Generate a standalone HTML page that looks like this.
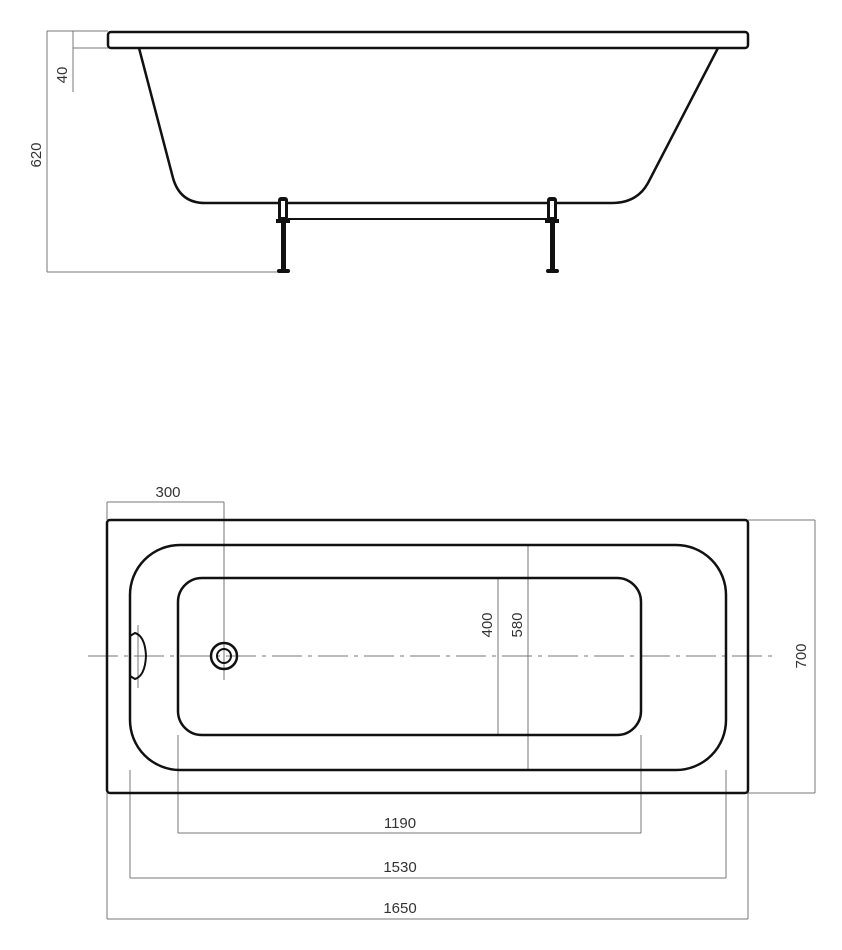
<!DOCTYPE html>
<html><head><meta charset="utf-8"><style>html,body{margin:0;padding:0;background:#fff}svg{display:block}</style></head>
<body>
<svg width="842" height="950" viewBox="0 0 842 950" xmlns="http://www.w3.org/2000/svg" font-family="Liberation Sans, sans-serif" font-size="15" fill="#333">
<g stroke="#777" stroke-width="1" fill="none">
<!-- top view dims -->
<line x1="47" y1="31" x2="47" y2="272"/><line x1="47" y1="31" x2="108" y2="31"/><line x1="47" y1="272" x2="283" y2="272"/>
<line x1="73" y1="31" x2="73" y2="92"/><line x1="73" y1="48" x2="108" y2="48"/>
<!-- bottom view dims -->
<line x1="107" y1="502" x2="224" y2="502"/><line x1="107" y1="502" x2="107" y2="520"/><line x1="224" y1="502" x2="224" y2="680"/>
<line x1="498" y1="578" x2="498" y2="735"/><line x1="528" y1="545" x2="528" y2="770"/>
<line x1="748" y1="520" x2="815" y2="520"/><line x1="748" y1="793" x2="815" y2="793"/><line x1="815" y1="520" x2="815" y2="793"/>
<line x1="178" y1="735" x2="178" y2="833"/><line x1="641" y1="735" x2="641" y2="833"/><line x1="178" y1="833" x2="641" y2="833"/>
<line x1="130" y1="770" x2="130" y2="878"/><line x1="726" y1="770" x2="726" y2="878"/><line x1="130" y1="878" x2="726" y2="878"/>
<line x1="107" y1="793" x2="107" y2="919"/><line x1="748" y1="793" x2="748" y2="919"/><line x1="107" y1="919" x2="748" y2="919"/>
<line x1="88" y1="656" x2="772" y2="656" stroke-dasharray="30,6,4,6"/>
<line x1="138" y1="625" x2="138" y2="688"/>
</g>
<g stroke="#111" stroke-width="2.5" fill="none">
<rect x="108" y="32" width="640" height="16" rx="3"/>
<path d="M139 48 L173 178 Q180 203 205 203 L612 203 Q637 203 648 183 L718 48"/>
<line x1="288" y1="219" x2="547" y2="219" stroke-width="2"/>
<rect x="107" y="520" width="641" height="273" rx="3"/>
<rect x="130" y="545" width="596" height="225" rx="50"/>
<rect x="178" y="578" width="463" height="157" rx="24"/>
<circle cx="224" cy="656" r="13"/><circle cx="224" cy="656" r="7" stroke-width="2"/>
<path d="M130 636 L135 633 Q145 636 146 656 Q145 676 135 679 L130 676" stroke-width="2"/>
</g>
<g fill="#111">
<rect x="278" y="197" width="10" height="24" rx="3"/><rect x="281" y="201" width="4" height="16" fill="#fff"/>
<rect x="276" y="219" width="14" height="4"/><rect x="281" y="222" width="5" height="49"/><rect x="277" y="269" width="13" height="4" rx="2"/>
<rect x="547" y="197" width="10" height="24" rx="3"/><rect x="550" y="201" width="4" height="16" fill="#fff"/>
<rect x="545" y="219" width="14" height="4"/><rect x="550" y="222" width="5" height="49"/><rect x="546" y="269" width="13" height="4" rx="2"/>
</g>
<text x="168" y="497" text-anchor="middle">300</text>
<text x="400" y="828" text-anchor="middle">1190</text>
<text x="400" y="872" text-anchor="middle">1530</text>
<text x="400" y="913" text-anchor="middle">1650</text>
<text transform="translate(67,75) rotate(-90)" text-anchor="middle">40</text>
<text transform="translate(41,155) rotate(-90)" text-anchor="middle">620</text>
<text transform="translate(492,625) rotate(-90)" text-anchor="middle">400</text>
<text transform="translate(522,625) rotate(-90)" text-anchor="middle">580</text>
<text transform="translate(806,656) rotate(-90)" text-anchor="middle">700</text>
</svg>
</body></html>
